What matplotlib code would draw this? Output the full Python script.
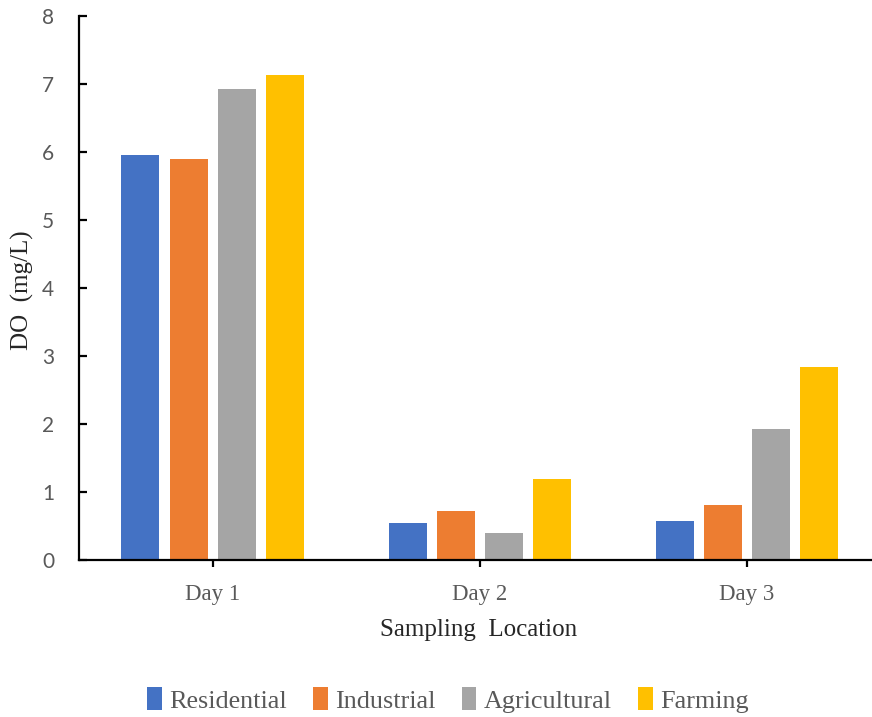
import matplotlib
matplotlib.use("Agg")
import matplotlib.pyplot as plt
import numpy as np

# Dissolved oxygen readings by sampling day and land-use type
days = ["Day 1", "Day 2", "Day 3"]
series_names = ["Residential", "Industrial", "Agricultural", "Farming"]
residential = [5.95, 0.54, 0.57]
industrial = [5.89, 0.72, 0.81]
agricultural = [6.92, 0.39, 1.92]
farming = [7.13, 1.19, 2.84]
colors = ["#4472C4", "#ED7D31", "#A5A5A5", "#FFC000"]
y_ticks = [0, 1, 2, 3, 4, 5, 6, 7, 8]

W, H = 872, 717
fig = plt.figure(figsize=(W / 100, H / 100), dpi=100)

left, right, top, bottom = 79, 880.5, 15.7, 560
ax = fig.add_axes([left / W, 1 - bottom / H, (right - left) / W, (bottom - top) / H])

x = np.arange(len(days))
bar_w = 0.142
pitch = 0.18
all_series = [residential, industrial, agricultural, farming]
for i, (name, vals, c) in enumerate(zip(series_names, all_series, colors)):
    ax.bar(x + (i - 1.5) * pitch, vals, width=bar_w, color=c, label=name,
           edgecolor="none", zorder=2)

ax.set_xlim(-0.5, 2.5)
ax.set_ylim(0, 8)
ax.set_yticks(y_ticks)
ax.set_xticks(x)
ax.set_xticklabels(days, family="Liberation Serif", fontsize=16.5, color="#595959")
ax.set_yticklabels([str(t) for t in y_ticks], family="Lato", fontsize=15, color="#595959")

for side in ["top", "right"]:
    ax.spines[side].set_visible(False)
for side in ["left", "bottom"]:
    ax.spines[side].set_linewidth(1.6)
    ax.spines[side].set_color("black")
    ax.spines[side].set_zorder(3)

ax.tick_params(axis="y", direction="in", length=6, width=1.6, pad=18)
ax.tick_params(axis="x", direction="out", length=5, width=1.6, pad=12)

fig.text(22 / W, 1 - 290 / H, "DO  (mg/L)", rotation=90, ha="center", va="center",
         family="Liberation Serif", fontsize=18, color="#262626")
fig.text(479 / W, 1 - 630 / H, "Sampling  Location", ha="center", va="center",
         family="Liberation Serif", fontsize=18, color="#262626")

handles, labels = ax.get_legend_handles_labels()
leg = fig.legend(handles, labels, loc="center", bbox_to_anchor=(0.514, 1 - 700 / H),
                 ncol=4, frameon=False, handlelength=0.55, handleheight=0.95,
                 handletextpad=0.3, columnspacing=1.0,
                 prop={"family": "Liberation Serif", "size": 18.8})
for t in leg.get_texts():
    t.set_color("#595959")

fig.savefig("out.png", dpi=100)
